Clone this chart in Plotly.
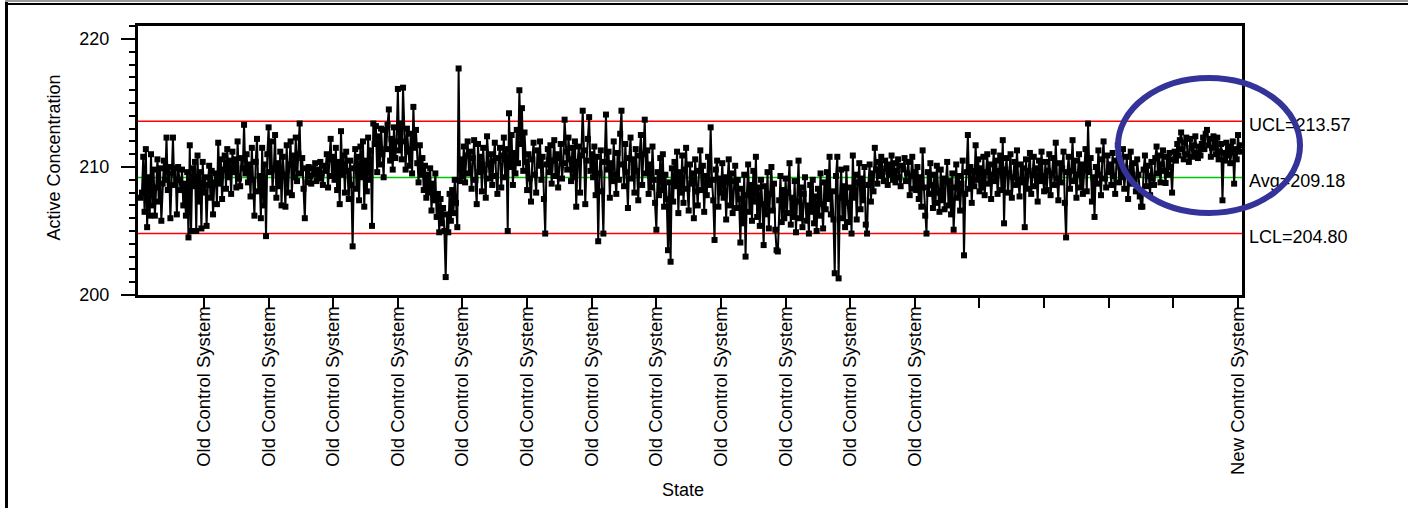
import plotly.graph_objects as go

# Individual measurements of active concentration, one per row (rows 1..852)
ACTIVE = [
    207.6, 208.0, 210.8, 206.5, 211.4, 205.3, 209.2, 206.2, 211.0, 207.0,
    209.8, 206.2, 208.4, 210.6, 207.3, 209.9, 205.8, 208.7, 210.5, 209.0,
    212.3, 208.2, 210.0, 206.0, 209.5, 212.3, 208.6, 209.9, 206.3, 210.0,
    209.0, 208.2, 209.8, 207.0, 208.7, 206.2, 209.6, 204.5, 211.7, 205.0,
    209.9, 208.5, 210.4, 205.0, 210.9, 207.3, 209.6, 205.2, 210.4, 208.0,
    209.2, 205.4, 208.6, 210.1, 207.6, 209.7, 206.3, 208.8, 209.5, 207.1,
    211.9, 208.7, 210.6, 207.5, 209.8, 210.9, 208.3, 211.4, 209.2, 210.5,
    207.9, 211.2, 209.6, 210.6, 208.4, 212.0, 209.1, 208.5, 210.7, 209.9,
    213.3, 209.5, 211.0, 208.8, 210.2, 207.7, 211.5, 209.0, 206.2, 210.4,
    212.2, 208.1, 209.3, 206.0, 211.5, 207.0, 210.2, 204.6, 211.0, 213.1,
    209.6, 212.0, 208.3, 209.8, 212.5, 207.6, 210.3, 208.5, 211.2, 207.0,
    210.8, 209.4, 206.9, 211.7, 208.0, 210.2, 212.0, 207.8, 210.9, 209.2,
    212.3, 208.9, 211.0, 213.4, 209.5, 210.7, 208.3, 206.0, 209.9, 208.8,
    210.0, 209.3, 208.7, 209.9, 209.4, 210.3, 208.9, 209.8, 209.1, 210.4,
    209.5, 208.6, 210.1, 209.7, 211.0, 208.4, 210.6, 212.2, 209.3, 210.8,
    209.0, 211.5, 208.2, 210.4, 207.1, 212.8, 209.4, 210.9, 208.0, 211.2,
    209.7, 207.5, 210.5, 208.6, 203.8, 209.9, 211.4, 208.3, 210.8, 207.4,
    211.6, 209.2, 212.0, 206.9, 210.5, 208.1, 212.3, 209.0, 211.3, 205.4,
    213.4, 211.8, 213.2, 209.6, 212.4, 210.2, 213.0, 211.0, 209.2, 212.9,
    211.4, 213.3, 214.5, 210.5, 212.2, 209.8, 213.1, 210.7, 212.0, 216.1,
    211.3, 213.4, 210.6, 216.2, 212.0, 209.8, 213.0, 211.2, 210.1, 212.6,
    209.5, 214.7, 211.5, 212.9, 210.3, 208.8, 211.7, 209.4, 210.7, 208.2,
    210.1, 207.6, 209.4, 208.0, 209.9, 206.6, 208.7, 207.4, 209.5, 206.1,
    207.9, 204.9, 207.5, 205.6, 206.8, 205.0, 201.4, 206.3, 204.9, 207.9,
    205.8, 208.2, 206.4, 209.0, 207.2, 205.3, 217.7, 208.9, 210.6, 209.3,
    211.6, 208.8, 210.9, 212.0, 209.5, 211.2, 208.3, 210.7, 212.1, 209.0,
    207.1, 211.8, 209.6, 210.8, 208.1, 211.5, 209.8, 207.6, 212.4, 210.2,
    209.1, 211.0, 208.6, 210.5, 211.9, 209.3, 207.9, 210.7, 211.5, 208.4,
    210.9, 212.3, 209.2, 211.4, 205.0, 214.2, 210.0, 212.5, 208.6, 211.1,
    209.5, 212.9, 210.3, 216.0, 211.8, 214.6, 209.7, 212.7, 210.4, 208.2,
    211.0, 209.1, 207.3, 210.6, 211.9, 209.4, 208.0, 211.3, 210.1, 212.0,
    209.0, 210.8, 207.5, 204.8, 210.2, 211.4, 209.6, 211.7, 208.7, 210.5,
    212.1, 209.3, 211.0, 208.4, 210.7, 211.8, 209.1, 210.3, 213.7, 211.2,
    209.8, 212.3, 210.6, 208.9, 211.5, 209.2, 212.0, 206.9, 210.4, 211.6,
    208.0, 210.9, 214.4, 211.3, 207.1, 210.5, 212.2, 213.9, 209.7, 211.0,
    209.2, 211.6, 207.8, 210.8, 204.2, 209.5, 211.3, 208.1, 204.8, 210.4,
    214.1, 209.8, 211.2, 207.6, 210.3, 208.9, 212.0, 209.4, 207.9, 211.1,
    209.0, 212.6, 214.4, 210.2, 208.5, 211.8, 209.6, 206.8, 210.7, 212.3,
    209.1, 210.6, 208.0, 211.4, 209.7, 207.4, 210.9, 212.5, 208.6, 211.0,
    213.7, 209.5, 211.3, 207.9, 210.2, 208.4, 211.6, 209.0, 207.2, 205.1,
    209.6, 207.8, 210.7, 208.2, 211.0, 206.9, 209.4, 207.5, 203.5, 208.8,
    202.6, 209.9, 207.3, 210.4, 208.5, 211.2, 206.4, 209.6, 208.0, 210.9,
    207.2, 209.8, 211.5, 208.3, 206.6, 210.2, 208.7, 209.5, 206.0, 210.6,
    208.1, 207.0, 209.7, 211.3, 208.2, 210.1, 206.5, 209.3, 207.8, 210.8,
    208.6, 213.1, 209.0, 207.4, 204.3, 209.8, 210.5, 206.9, 209.1, 208.0,
    210.3, 207.6, 209.2, 205.9, 208.8, 210.6, 207.0, 209.5, 206.4, 208.9,
    210.1, 206.8, 209.0, 207.5, 204.1, 208.3, 205.6, 209.4, 203.0, 207.8,
    210.2, 206.5, 208.6, 205.8, 209.7, 207.3, 210.8, 206.1, 208.4, 205.4,
    209.0, 207.1, 203.9, 208.5, 206.3, 209.6, 205.2, 207.9, 210.0, 206.6,
    208.7, 205.1, 203.5, 203.4, 207.4, 209.3, 205.7, 208.2, 206.0, 209.1,
    206.4, 208.0, 210.3, 205.5, 207.6, 206.1, 208.9, 204.9, 207.3, 210.5,
    206.0, 208.4, 205.3, 207.9, 209.2, 205.8, 207.0, 204.8, 208.6, 206.5,
    209.0, 205.6, 207.7, 205.0, 208.3, 206.2, 209.5, 207.1, 205.2, 208.8,
    206.7, 209.6, 207.5, 210.8, 206.3, 208.1, 205.9, 201.7, 209.3, 210.8,
    201.3, 207.6, 209.8, 206.0, 208.5, 205.3, 209.9, 207.2, 205.7, 208.4,
    204.8, 210.9, 207.6, 209.4, 205.9, 208.8, 210.3, 206.7, 209.1, 207.4,
    210.0, 205.5, 204.8, 208.6, 210.2, 207.3, 209.5, 208.1, 211.5, 209.8,
    208.7, 210.4, 209.3, 210.8, 209.6, 208.9, 210.5, 209.9, 208.6, 210.2,
    209.4, 210.9, 209.0, 210.3, 208.8, 209.7, 210.6, 209.2, 208.5, 210.1,
    209.8, 210.7, 208.9, 209.5, 210.4, 207.8, 209.3, 210.8, 208.3, 209.6,
    208.2, 210.0, 207.5, 209.2, 206.9, 211.3, 208.4, 206.2, 204.8, 209.6,
    207.9, 210.3, 208.6, 206.8, 209.4, 207.2, 210.1, 208.0, 206.5, 209.8,
    207.4, 209.1, 206.7, 208.8, 210.4, 207.0, 208.9, 206.3, 209.5, 205.1,
    208.4, 210.2, 207.6, 209.3, 206.6, 208.7, 210.5, 203.1, 207.9, 209.6,
    212.5, 208.3, 210.0, 207.2, 209.7, 208.5, 211.7, 209.0, 210.6, 208.1,
    209.9, 208.4, 210.8, 207.8, 209.6, 211.0, 208.7, 210.2, 207.5, 209.4,
    211.2, 208.9, 210.5, 207.9, 209.7, 210.9, 208.2, 212.1, 205.6, 209.8,
    210.7, 208.0, 209.5, 211.0, 207.6, 209.2, 210.4, 208.6, 211.3, 209.0,
    207.7, 210.2, 208.8, 209.9, 205.3, 210.6, 208.3, 209.7, 211.1, 207.9,
    209.4, 210.8, 208.5, 209.9, 207.3, 210.5, 208.9, 211.2, 209.3, 208.1,
    210.4, 208.2, 209.7, 211.0, 207.8, 209.5, 210.7, 208.6, 211.9, 209.1,
    207.4, 210.3, 208.8, 209.9, 211.2, 207.2, 204.5, 209.6, 210.8, 208.3,
    209.7, 212.1, 208.9, 210.5, 207.6, 209.4, 211.0, 208.4, 210.2, 207.9,
    209.8, 211.4, 208.1, 213.4, 209.6, 210.7, 207.3, 209.2, 206.1, 210.0,
    208.7, 211.3, 209.4, 207.8, 210.6, 212.0, 209.1, 208.4, 210.9, 209.6,
    210.2, 208.6, 211.1, 209.3, 207.9, 210.5, 211.7, 208.8, 210.0, 209.2,
    211.4, 208.3, 209.9, 210.8, 207.5, 209.6, 211.2, 208.7, 210.3, 209.0,
    208.1, 210.6, 209.4, 207.7, 206.9, 206.9, 209.8, 210.9, 208.5, 210.1,
    209.3, 207.8, 210.4, 209.1, 208.6, 210.7, 211.6, 209.5, 210.9, 208.8,
    210.2, 211.3, 209.7, 208.75, 210.8, 209.4, 211.1, 210.0, 208.0, 210.6,
    211.2, 210.5, 211.8, 210.9, 212.1, 212.7, 211.4, 210.6, 211.9, 212.3,
    211.0, 210.4, 212.2, 211.5, 210.8, 211.7, 212.4, 211.1, 210.7, 211.6,
    210.9, 211.8, 212.3, 211.4, 212.6, 212.9, 211.7, 212.2, 210.8, 211.5,
    212.4, 211.9, 211.0, 212.3, 210.6, 211.2, 211.8, 207.4, 211.1, 210.5,
    211.9, 210.9, 211.6, 210.3, 211.3, 212.0, 208.7, 211.4, 210.6, 212.5,
    211.2, 211.7,
]
ROWS = list(range(1, len(ACTIVE) + 1))

# Control limits and centre line
UCL = 213.57
AVG = 209.18
LCL = 204.80

# Row labels shown on the State axis
TICK_ROWS = [50, 100, 150, 200, 250, 300, 350, 400, 450, 500,
             550, 600, 650, 700, 750, 800, 850]
TICK_STATES = ["Old Control System", "Old Control System", "Old Control System",
               "Old Control System", "Old Control System", "Old Control System",
               "Old Control System", "Old Control System", "Old Control System",
               "Old Control System", "Old Control System", "Old Control System",
               "", "", "", "", "New Control System"]

W, H = 1408, 508
ML, MR, MT, MB = 138, 166, 26, 213
PW, PH = W - ML - MR, H - MT - MB


def px(xp):
    """Page x pixel -> paper coordinate."""
    return (xp - ML) / PW


def py(yp):
    """Page y pixel -> paper coordinate."""
    return (H - MB - yp) / PH


FONT = "Liberation Sans, Arial, Helvetica, sans-serif"
Y_RANGE = [200, 221.02]

fig = go.Figure()

# control limits (red) and centre line (green), drawn beneath the data
for level, colour in ((UCL, "#ff0000"), (LCL, "#ff0000"), (AVG, "#00c800")):
    fig.add_hline(y=level, line=dict(color=colour, width=1.5), layer="below")

fig.add_trace(go.Scatter(
    x=ROWS, y=ACTIVE, mode="lines+markers",
    line=dict(color="black", width=2),
    marker=dict(symbol="square", size=6, color="black"),
    showlegend=False, hoverinfo="skip",
))

# invisible trace that activates the right-hand limit-label axis
fig.add_trace(go.Scatter(
    x=[ROWS[0]], y=[AVG], yaxis="y2", mode="markers",
    marker=dict(opacity=0), showlegend=False, hoverinfo="skip",
))

fig.update_layout(
    width=W, height=H,
    margin=dict(l=ML, r=MR, t=MT, b=MB, pad=0),
    paper_bgcolor="white", plot_bgcolor="white",
    font=dict(family=FONT, size=18, color="black"),
    xaxis=dict(
        range=[-1.06, 853.1], tickmode="array",
        tickvals=TICK_ROWS, ticktext=TICK_STATES, tickangle=-90,
        tickfont=dict(size=18.5),
        ticks="outside", ticklen=10, tickwidth=2, tickcolor="black",
        showline=True, linecolor="black", linewidth=3, mirror=True,
        showgrid=False, zeroline=False, ticklabelstandoff=-9,
    ),
    yaxis=dict(
        range=Y_RANGE, tickmode="linear", tick0=200, dtick=10,
        ticks="outside", ticklen=14, tickwidth=2, tickcolor="black",
        minor=dict(dtick=1, ticks="outside", ticklen=6, tickwidth=2,
                   tickcolor="black", showgrid=False),
        showline=True, linecolor="black", linewidth=3, mirror=True,
        showgrid=False, zeroline=False, ticklabelstandoff=8,
    ),
    yaxis2=dict(
        range=Y_RANGE, overlaying="y", side="right", tickmode="array",
        tickvals=[UCL, AVG, LCL],
        ticktext=[f"UCL={UCL:.2f}", f"Avg={AVG:.2f}", f"LCL={LCL:.2f}"],
        ticks="", showline=False, showgrid=False, zeroline=False,
        ticklabelstandoff=6, ticklabelshift=3,
    ),
    annotations=[
        dict(text="Active Concentration", xref="paper", yref="paper",
             x=px(53), y=py(157.5), textangle=-90, showarrow=False,
             xanchor="center", yanchor="middle", font=dict(size=18)),
        dict(text="State", xref="paper", yref="paper",
             x=px(683), y=py(490), showarrow=False,
             xanchor="center", yanchor="middle", font=dict(size=18)),
    ],
)

# highlight ring around the most recent rows
fig.add_shape(type="circle", xref="paper", yref="paper",
              x0=px(1118), x1=px(1300), y0=py(213), y1=py(78),
              line=dict(color="#333399", width=6), layer="above")

# page frame
fig.add_shape(type="rect", xref="paper", yref="paper",
              x0=px(5), x1=px(1408), y0=py(2), y1=py(0),
              fillcolor="#9a9a9a", line=dict(width=0), layer="above")
fig.add_shape(type="rect", xref="paper", yref="paper",
              x0=px(7), x1=px(1408), y0=py(5), y1=py(3),
              fillcolor="black", line=dict(width=0), layer="above")
fig.add_shape(type="rect", xref="paper", yref="paper",
              x0=px(5), x1=px(8), y0=py(508), y1=py(2),
              fillcolor="black", line=dict(width=0), layer="above")

fig.write_html("out.html")
